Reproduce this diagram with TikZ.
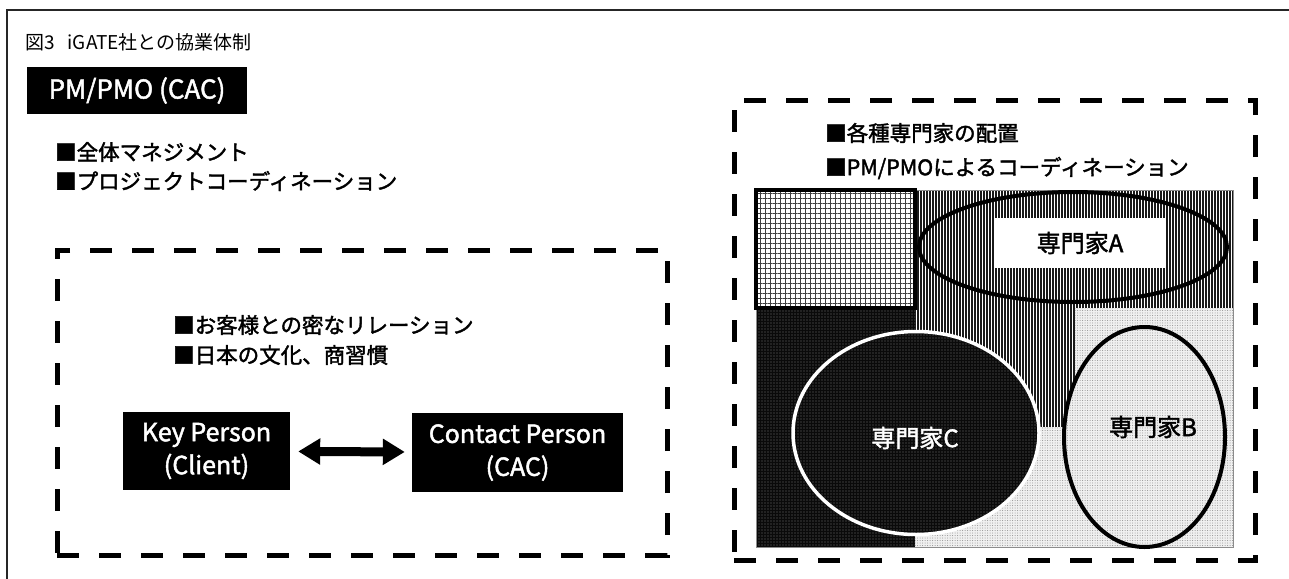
\documentclass[tikz,border=0pt]{standalone}
\usepackage{fontspec}
\setmainfont{Noto Sans CJK JP}
\newfontfamily\med{Noto Sans CJK JP}[FakeBold=1.8]
\usetikzlibrary{patterns.meta,arrows.meta,shapes.geometric}
\begin{document}
\begin{tikzpicture}[x=1pt,y=-1pt,
  dashbox/.style={draw, line width=5pt, dash pattern=on 22pt off 20pt, inner sep=0pt},
  blackbox/.style={fill=black, text=white, inner sep=0pt, align=center},
  bullet/.style={anchor=west, inner sep=0pt, font=\med\fontsize{21.5}{26}\selectfont},
  vlines/.style={pattern={Lines[angle=90,distance=3pt,line width=1.5pt]}, pattern color=black!90},
  gridpat/.style={pattern={Hatch[angle=0,distance=5pt,line width=0.9pt]}, pattern color=black!75},
  darkdots/.style={preaction={fill=black!96}, pattern={Dots[distance=3pt,radius=0.6pt]}, pattern color=black!55},
  lightdots/.style={preaction={fill=black!6}, pattern={Dots[distance=2.5pt,radius=0.5pt]}, pattern color=black!45},
  spec/.style={inner sep=0pt, font=\med\fontsize{24}{28}\selectfont}
]
\useasboundingbox (0,0) rectangle (1289,578);
\fill[white] (0,0) rectangle (1289,578);
\draw[line width=1.5pt, black!85] (7,10) rectangle (1310,600);

% title
\node[anchor=west, inner sep=0pt, font=\fontsize{19}{23}\selectfont] (title) at (25,42) {図3\hspace{13pt}iGATE社との協業体制};

% PM/PMO box
\node[blackbox, minimum width=220pt, minimum height=47pt, font=\med\fontsize{26}{30}\selectfont] (pm) at (137,90.5) {PM/PMO (CAC)};
\node[bullet] (b1) at (55,152) {■全体マネジメント};
\node[bullet] (b2) at (55,181) {■プロジェクトコーディネーション};

% left dashed box
\node[dashbox, minimum width=610pt, minimum height=305pt] (leftbox) at (362,402.5) {};
\node[bullet] (l1) at (173,325) {■お客様との密なリレーション};
\node[bullet] (l2) at (173,355) {■日本の文化、商習慣};
\node[blackbox, minimum width=167pt, minimum height=78pt, font=\med\fontsize{25}{33}\selectfont] (key) at (206.5,451) {Key Person\\(Client)};
\node[blackbox, minimum width=211pt, minimum height=79pt, font=\med\fontsize{25}{33}\selectfont] (contact) at (517.5,452.5) {Contact Person\\(CAC)};
\draw[line width=9pt, {Triangle[width=25pt,length=22pt]}-{Triangle[width=25pt,length=22pt]}, shorten <=8pt, shorten >=7pt] (key) -- (contact);

% right dashed box
\node[dashbox, minimum width=521pt, minimum height=460pt] (rightbox) at (994.5,330) {};
\node[bullet] (r1) at (825,133) {■各種専門家の配置};
\node[bullet] (r2) at (825,168) {■PM/PMOによるコーディネーション};

% pattern regions
\fill[vlines] (915,190) -- (1233,190) -- (1233,308) -- (1075,308) -- (1075,427) -- (915,427) -- cycle;
\fill[lightdots] (1075,308) -- (1233,308) -- (1233,547) -- (915,547) -- (915,427) -- (1075,427) -- cycle;
\fill[darkdots] (756,308) rectangle (915,547);
\draw[black!45, line width=0.8pt] (756,190) rectangle (1233,547);
\fill[gridpat] (756,190) rectangle (915,308);
\draw[line width=3.5pt] (756,190) rectangle (915,308);

% experts
\node[ellipse, draw, line width=4pt, minimum width=308pt, minimum height=110pt, inner sep=0pt] (ellA) at (1073,247) {};
\node[fill=white, minimum width=170pt, minimum height=50pt, inner sep=0pt, font=\med\fontsize{24}{28}\selectfont] (labA) at (1080,243) {専門家A};
\node[ellipse, draw=white, line width=3.5pt, darkdots, minimum width=246pt, minimum height=203pt, inner sep=0pt] (ellC) at (916,433) {};
\node[spec, text=white] (labC) at (915,438) {専門家C};
\node[ellipse, draw, line width=4pt, lightdots, minimum width=161pt, minimum height=220pt, inner sep=0pt] (ellB) at (1144.5,437) {};
\node[spec] (labB) at (1153,427) {専門家B};
\end{tikzpicture}
\end{document}
